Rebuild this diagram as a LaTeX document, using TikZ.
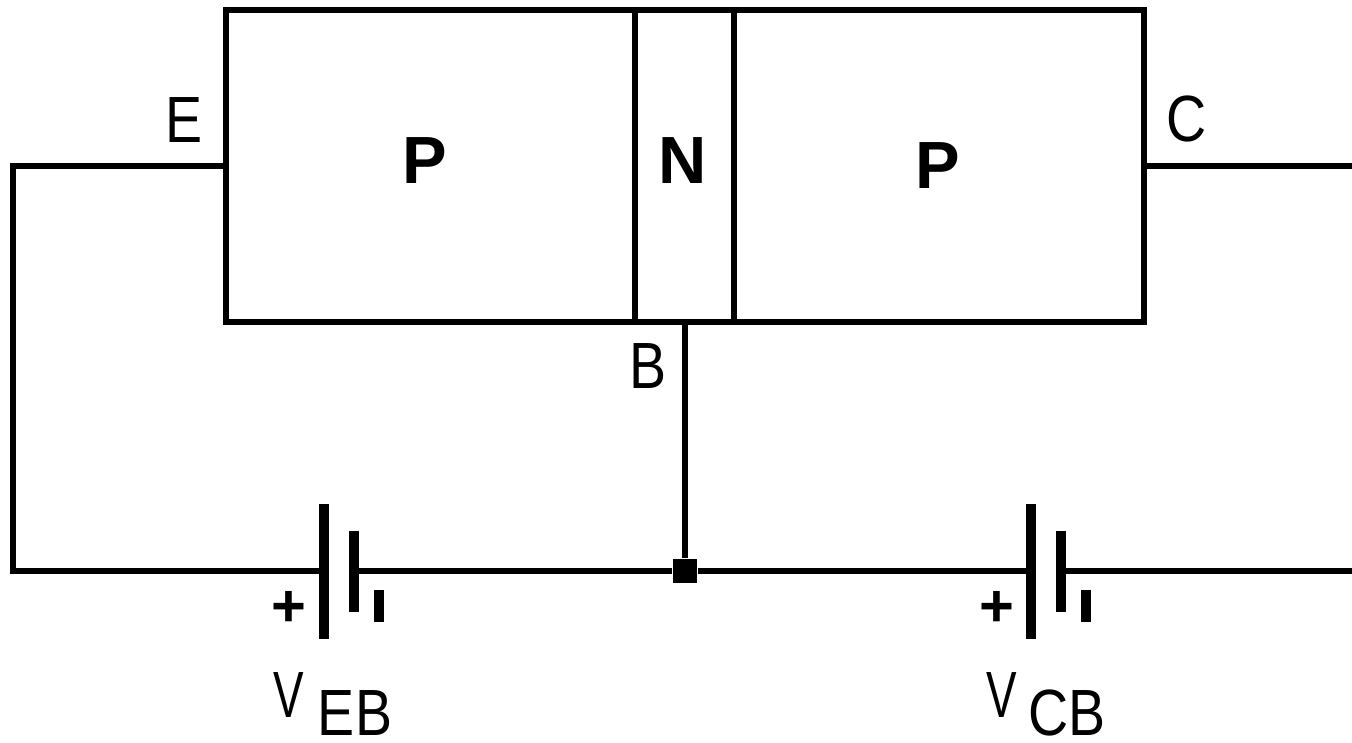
\documentclass[tikz,border=0pt]{standalone}
\usepackage{fontspec}
\setmainfont{Liberation Sans}
\usepackage{tikz}
\tikzset{
  wire/.style={line width=1.5pt},
  plate/.style={line width=2.8pt},
  layer/.style={font=\bfseries\fontsize{19}{19}\selectfont, inner sep=0pt},
  lead/.style={font=\fontsize{18.6}{19}\selectfont, inner sep=0pt, xscale=.85, transform shape},
  volt/.style={font=\fontsize{18.6}{19}\selectfont, inner sep=0pt, xscale=.7, transform shape},
  sign/.style={font=\bfseries\fontsize{17}{17}\selectfont, inner sep=0pt}
}
\begin{document}
\begin{tikzpicture}
    \useasboundingbox (0, 0) rectangle (13.52, 7.43);

    \node[draw, wire, minimum width=9.18cm, minimum height=3.12cm, inner sep=0pt] (body) at (6.85, 5.77) {};
    \coordinate (n1t) at (6.35, 7.33);
    \coordinate (n1b) at (6.35, 4.21);
    \coordinate (n2t) at (7.34, 7.33);
    \coordinate (n2b) at (7.34, 4.21);
    \draw[wire] (n1t) to (n1b)
        (n2t) to (n2b);

    \node[layer] (p1) at (4.25, 5.82) {P};
    \node[layer] (n) at (6.83, 5.82) {N};
    \node[layer] (p2) at (9.38, 5.77) {P};
    \node[lead] (e) at (1.84, 6.23) {E};
    \node[lead] (c) at (11.87, 6.24) {C};
    \node[lead] (b) at (6.48, 3.77) {B};

    \coordinate (eb) at (2.26, 5.77);
    \coordinate (cb) at (11.44, 5.77);
    \coordinate (bb) at (6.85, 4.21);
    \coordinate (cor1) at (0.13, 5.77);
    \coordinate (cor2) at (0.13, 1.72);
    \coordinate (cend) at (13.52, 5.77);
    \coordinate (rend) at (13.52, 1.72);

    \node[fill, minimum size=0.24cm, inner sep=0pt] (j) at (6.85, 1.72) {};

    % first cell
    \coordinate (a1) at (3.24, 2.39);
    \coordinate (a2) at (3.24, 1.04);
    \coordinate (a) at (3.24, 1.72);
    \coordinate (d1) at (3.54, 2.12);
    \coordinate (d2) at (3.54, 1.31);
    \coordinate (d) at (3.54, 1.72);
    \coordinate (m1) at (3.79, 1.53);
    \coordinate (m2) at (3.79, 1.21);

    % second cell
    \coordinate (f1) at (10.31, 2.39);
    \coordinate (f2) at (10.31, 1.04);
    \coordinate (f) at (10.31, 1.72);
    \coordinate (g1) at (10.61, 2.12);
    \coordinate (g2) at (10.61, 1.31);
    \coordinate (g) at (10.61, 1.72);
    \coordinate (h1) at (10.86, 1.53);
    \coordinate (h2) at (10.86, 1.21);

    \draw[wire] (eb) to (cor1) to (cor2) to (a)
        (d) to (j)
        (j) to (f)
        (g) to (rend)
        (cb) to (cend)
        (bb) to (j);
    \draw[plate] (a1) to (a2)
        (d1) to (d2)
        (m1) to (m2)
        (f1) to (f2)
        (g1) to (g2)
        (h1) to (h2);

    \node[sign] (plus1) at (2.89, 1.34) {+};
    \node[sign] (plus2) at (9.97, 1.34) {+};

    \node[volt] (v1) at (2.89, 0.48) {V};
    \node[lead] (eb1) at (3.55, 0.30) {EB};
    \node[volt] (v2) at (10.02, 0.48) {V};
    \node[lead] (cb1) at (10.67, 0.30) {CB};
\end{tikzpicture}
\end{document}
